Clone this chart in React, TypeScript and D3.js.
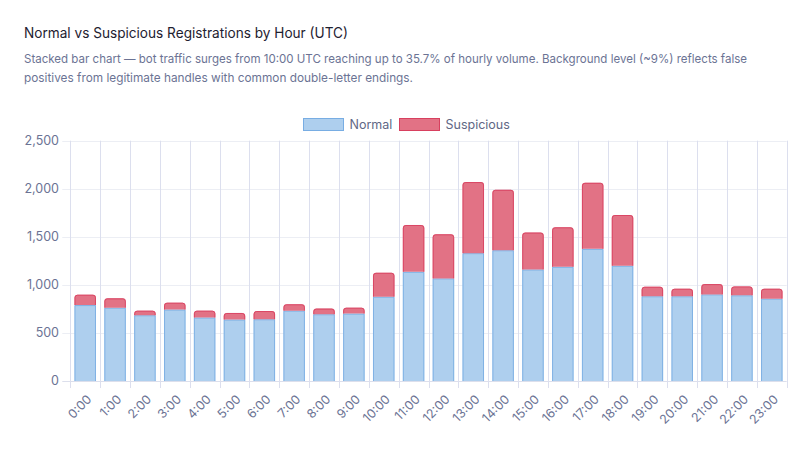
import * as React from 'react';
import * as d3 from 'd3';

const hours = ['0:00', '1:00', '2:00', '3:00', '4:00', '5:00', '6:00', '7:00', '8:00', '9:00', '10:00', '11:00',
    '12:00', '13:00', '14:00', '15:00', '16:00', '17:00', '18:00', '19:00', '20:00', '21:00', '22:00', '23:00'];
const normal = [790, 763, 684, 743, 660, 639, 642, 732, 694, 701, 877, 1136,
    1067, 1330, 1360, 1160, 1188, 1375, 1199, 881, 881, 901, 891, 857];
const suspicious = [108, 97, 48, 72, 72, 69, 86, 66, 59, 62, 249, 487,
    459, 740, 629, 384, 411, 687, 528, 100, 79, 107, 93, 103];
const yTicks = [0, 500, 1000, 1500, 2000, 2500];

const seriesNames = ['Normal', 'Suspicious'];
const fills = ['#aecfee', '#e27285'];
const borders = ['#78ade3', '#d8405f'];

const W = 801, H = 449;
const margin = { left: 70.3, right: 14.3, top: 140.7, bottom: 68 };
const font = 'Inter, "DejaVu Sans", sans-serif';

function topPath(x0: number, x1: number, yTop: number, yBot: number, r: number) {
    const p = d3.path();
    p.moveTo(x0, yBot);
    p.lineTo(x0, yTop + r);
    p.arcTo(x0, yTop, x0 + r, yTop, r);
    p.lineTo(x1 - r, yTop);
    p.arcTo(x1, yTop, x1, yTop + r, r);
    p.lineTo(x1, yBot);
    return p.toString();
}

export default function App() {
    React.useEffect(() => {
        document.body.style.margin = '0';
    }, []);

    const rows = hours.map((h, i) => ({ hour: h, Normal: normal[i], Suspicious: suspicious[i] }));
    const stack = d3.stack<any>().keys(seriesNames)(rows);

    const grid = d3.scaleBand().domain(hours).range([margin.left, W - margin.right]);
    const x = d3.scaleBand().domain(hours).range([margin.left, W - margin.right])
        .paddingInner(0.28).paddingOuter(0.14);
    const y = d3.scaleLinear().domain([0, 2500]).range([381, margin.top]);

    const y0 = y(0);
    const gridLines = hours.map(h => grid(h) as number).concat([W - margin.right]);

    return (
        <svg width={W} height={H} style={{ display: 'block', background: '#fff' }}>
            <text x={24} y={38} fontFamily={font} fontSize={14} fill="#1e2130" textLength={324} lengthAdjust="spacingAndGlyphs">
                Normal vs Suspicious Registrations by Hour (UTC)
            </text>
            <text x={24} y={63} fontFamily={font} fontSize={12} fill="#6b7394" textLength={723} lengthAdjust="spacingAndGlyphs">
                Stacked bar chart — bot traffic surges from 10:00 UTC reaching up to 35.7% of hourly volume. Background level (~9%) reflects false
            </text>
            <text x={24} y={82} fontFamily={font} fontSize={12} fill="#6b7394" textLength={389} lengthAdjust="spacingAndGlyphs">
                positives from legitimate handles with common double-letter endings.
            </text>

            {/* legend */}
            {seriesNames.map((s, i) => {
                const lx = i === 0 ? 303.5 : 399.5;
                return (
                    <g key={s}>
                        <rect x={lx} y={118.5} width={40} height={12} fill={fills[i]} stroke={borders[i]} strokeWidth={1} />
                        <text x={lx + 46} y={124.5} dy="0.35em" fontFamily={font} fontSize={12.5} fill="#5f6785">{s}</text>
                    </g>
                );
            })}

            {/* horizontal grid */}
            {yTicks.map(t => (
                <g key={t}>
                    <line x1={margin.left - 8} x2={W - margin.right} y1={Math.round(y(t)) + 0.5} y2={Math.round(y(t)) + 0.5}
                        stroke={t === 0 ? '#dcdfec' : '#eceef4'} />
                    <text x={59} y={y(t)} dy="0.35em" textAnchor="end" fontFamily={font} fontSize={12.5} fill="#6b7394">
                        {d3.format(',')(t)}
                    </text>
                </g>
            ))}
            {/* vertical grid */}
            {gridLines.map((gx, i) => (
                <line key={i} x1={Math.round(gx) + 0.5} x2={Math.round(gx) + 0.5} y1={margin.top} y2={y0 + 7}
                    stroke="#dcdfee" />
            ))}

            {/* bars */}
            {stack.map((layer, si) => (
                <g key={layer.key}>
                    {layer.map((d, i) => {
                        const bx = x(hours[i]) as number;
                        const bw = x.bandwidth();
                        const yt = y(d[1]);
                        const yb = y(d[0]);
                        const r = si === 1 ? 3 : 0;
                        return (
                            <g key={i}>
                                <path d={topPath(bx, bx + bw, yt, yb, r)} fill={fills[si]} />
                                <path d={topPath(bx + 0.5, bx + bw - 0.5, yt + 0.5, yb, Math.max(0, r - 0.5))}
                                    fill="none" stroke={borders[si]} strokeWidth={1} strokeOpacity={0.85} />
                            </g>
                        );
                    })}
                </g>
            ))}

            {/* x labels */}
            {hours.map(h => {
                const cx = (x(h) as number) + x.bandwidth() / 2;
                return (
                    <text key={h} transform={`translate(${cx + 1},${y0 + 13}) rotate(-45)`} textAnchor="end" dy="0.7em"
                        fontFamily={font} fontSize={12.5} fill="#6b7394">{h}</text>
                );
            })}
        </svg>
    );
}
